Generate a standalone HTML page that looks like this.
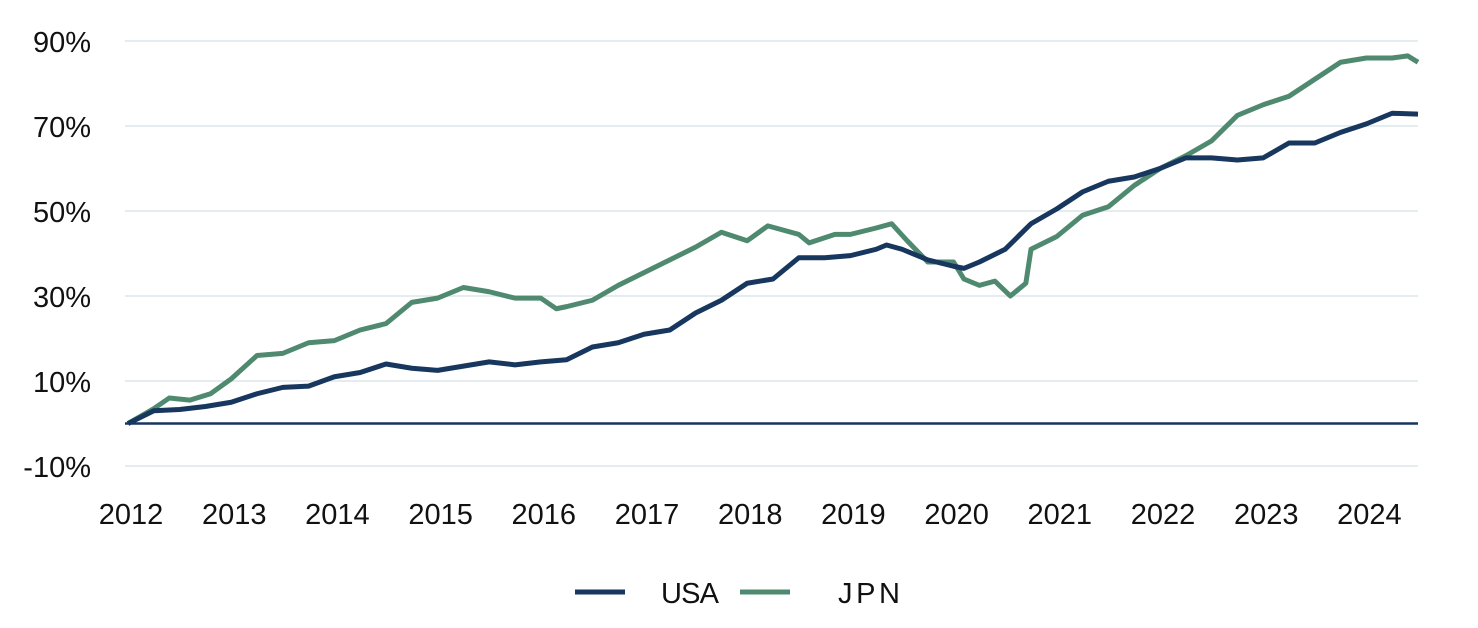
<!DOCTYPE html>
<html><head><meta charset="utf-8"><style>
html,body{margin:0;padding:0;background:#fff;width:1478px;height:628px;overflow:hidden}
svg text{font-family:"Liberation Sans",sans-serif;fill:#111}
</style></head><body>
<svg id="chart" width="1478" height="628" xmlns="http://www.w3.org/2000/svg">
<g id="grid"></g>
<g id="yaxis"></g>
<g id="xaxis"></g>
<g id="series"></g>
<g>
<g>
<line x1="575" y1="592" x2="625" y2="592" stroke="#17375e" stroke-width="5"/>
<text x="661" y="603" font-size="29" textLength="58">USA</text></g>
<g>
<line x1="740" y1="592" x2="790" y2="592" stroke="#4f8a70" stroke-width="5"/>
<text x="838" y="603" font-size="29" textLength="62">JPN</text></g>
</g>
</svg>
<script>
const yTicks=[90,70,50,30,10,-10];
const xTicks=[2012,2013,2014,2015,2016,2017,2018,2019,2020,2021,2022,2023,2024];
const usaDates=[2012,2012.25,2012.5,2012.75,2013,2013.25,2013.5,2013.75,2014,2014.25,2014.5,2014.75,2015,2015.25,2015.5,2015.75,2016,2016.25,2016.5,2016.75,2017,2017.25,2017.5,2017.75,2018,2018.25,2018.5,2018.75,2019,2019.25,2019.35,2019.5,2019.75,2020,2020.1,2020.25,2020.5,2020.75,2021,2021.25,2021.5,2021.75,2022,2022.25,2022.5,2022.75,2023,2023.25,2023.5,2023.75,2024,2024.25,2024.5];
const usaValues=[0,3,3.3,4,5,7,8.5,8.8,11,12,14,13,12.5,13.5,14.5,13.8,14.5,15,18,19,21,22,26,29,33,34,39,39,39.5,41,42,41,38.5,37,36.5,38,41,47,50.5,54.5,57,58,60,62.5,62.5,62,62.5,66,66,68.5,70.5,73,72.8];
const jpnDates=[2012,2012.25,2012.4,2012.6,2012.8,2013,2013.25,2013.5,2013.75,2014,2014.25,2014.5,2014.75,2015,2015.25,2015.5,2015.75,2016,2016.15,2016.25,2016.5,2016.75,2017,2017.25,2017.5,2017.75,2018,2018.2,2018.5,2018.6,2018.85,2019,2019.25,2019.4,2019.55,2019.75,2020,2020.1,2020.25,2020.4,2020.55,2020.7,2020.75,2021,2021.25,2021.5,2021.75,2022,2022.25,2022.5,2022.75,2023,2023.25,2023.5,2023.75,2024,2024.25,2024.4,2024.5];
const jpnValues=[0,3.5,6,5.5,7,10.5,16,16.5,19,19.5,22,23.5,28.5,29.5,32,31,29.5,29.5,27,27.5,29,32.5,35.5,38.5,41.5,45,43,46.5,44.5,42.5,44.5,44.5,46,47,43,38,38,34,32.5,33.5,30,33,41,44,49,51,56,60,63,66.5,72.5,75,77,81,85,86,86,86.5,85];
const NS="http://www.w3.org/2000/svg";
const X=d=>128+(d-2012)*103.2;
const Y=v=>423.5-v*4.25;
const grid=document.getElementById('grid'),ya=document.getElementById('yaxis'),xa=document.getElementById('xaxis'),ser=document.getElementById('series');
yTicks.forEach(t=>{
 const l=document.createElementNS(NS,'line');
 
 
 l.setAttribute('x1',125);l.setAttribute('x2',1418);l.setAttribute('y1',Y(t));l.setAttribute('y2',Y(t));
 l.setAttribute('stroke','#dbe5ec');l.setAttribute('stroke-width','1.5');grid.appendChild(l);
 const tx=document.createElementNS(NS,'text');
 
 
 tx.setAttribute('x',91);tx.setAttribute('y',Y(t)+11);tx.setAttribute('text-anchor','end');tx.setAttribute('font-size','29');
 tx.textContent=t+'%';ya.appendChild(tx);
});
xTicks.forEach(t=>{
 const tx=document.createElementNS(NS,'text');
 
 
 tx.setAttribute('x',X(t)+3);tx.setAttribute('y',524);tx.setAttribute('text-anchor','middle');tx.setAttribute('font-size','29');
 tx.textContent=t;xa.appendChild(tx);
});
const zero=document.createElementNS(NS,'line');


zero.setAttribute('x1',125);zero.setAttribute('x2',1418);zero.setAttribute('y1',Y(0));zero.setAttribute('y2',Y(0));
zero.setAttribute('stroke','#17375e');zero.setAttribute('stroke-width','2.5');grid.appendChild(zero);
function drawLine(dates,vals,color,name){
 const p=document.createElementNS(NS,'polyline');
 
 
 p.setAttribute('points',dates.map((d,i)=>X(d)+','+Y(vals[i])).join(' '));
 p.setAttribute('fill','none');p.setAttribute('stroke',color);p.setAttribute('stroke-width','5');p.setAttribute('stroke-linejoin','round');
 ser.appendChild(p);
}
drawLine(jpnDates,jpnValues,'#4f8a70','jpn-line');
drawLine(usaDates,usaValues,'#17375e','usa-line');
</script>
</body></html>
